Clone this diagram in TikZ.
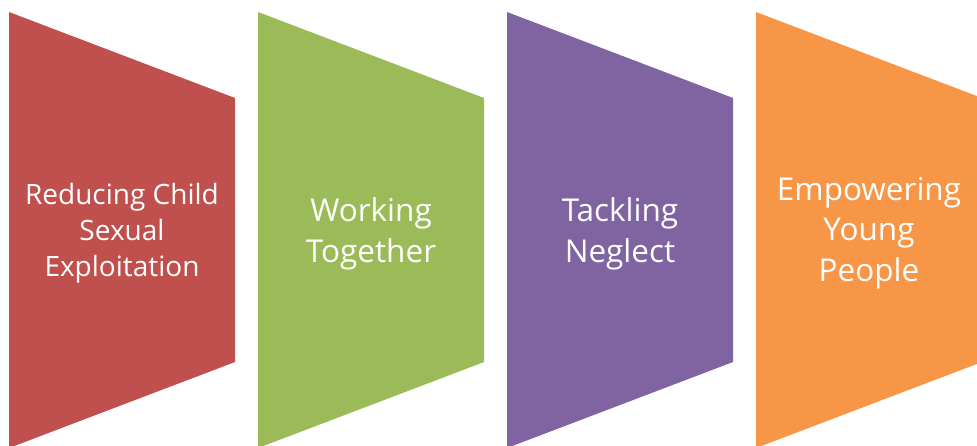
\documentclass[tikz,border=0pt]{standalone}
\usepackage{fontspec}
\setmainfont{Open Sans}
\usepackage{tikz}

\definecolor{redslab}{HTML}{C0504D}
\definecolor{greenslab}{HTML}{9BBB59}
\definecolor{purpleslab}{HTML}{8064A2}
\definecolor{orangeslab}{HTML}{F79646}

\tikzset{
  slab/.style={fill=#1,draw=none},
  slabtext/.style={text=white,align=center,inner sep=0pt},
  smalltext/.style={font=\fontsize{28}{36}\selectfont},
  bigtext/.style={font=\fontsize{31.5}{40.5}\selectfont}
}

\begin{document}
\begin{tikzpicture}[x=1pt,y=-1pt]
  \clip (0,0) rectangle (977,445);
  \fill[white] (0,0) rectangle (977,445);
  \foreach \i/\c in {0/redslab,1/greenslab,2/purpleslab,3/orangeslab}
    \path[slab=\c] (9+249*\i,12) -- (235+249*\i,98) -- (235+249*\i,362) -- (9+249*\i,448) -- cycle;
  \node[slabtext,smalltext] (S-1) at (122,233) {Reducing Child\\Sexual\\Exploitation};
  \node[slabtext,bigtext] (S-2) at (371,234) {Working\\Together};
  \node[slabtext,bigtext] (S-3) at (620,234) {Tackling\\Neglect};
  \node[slabtext,bigtext] (S-4) at (869,233) {Empowering\\Young\\People};
\end{tikzpicture}
\end{document}
